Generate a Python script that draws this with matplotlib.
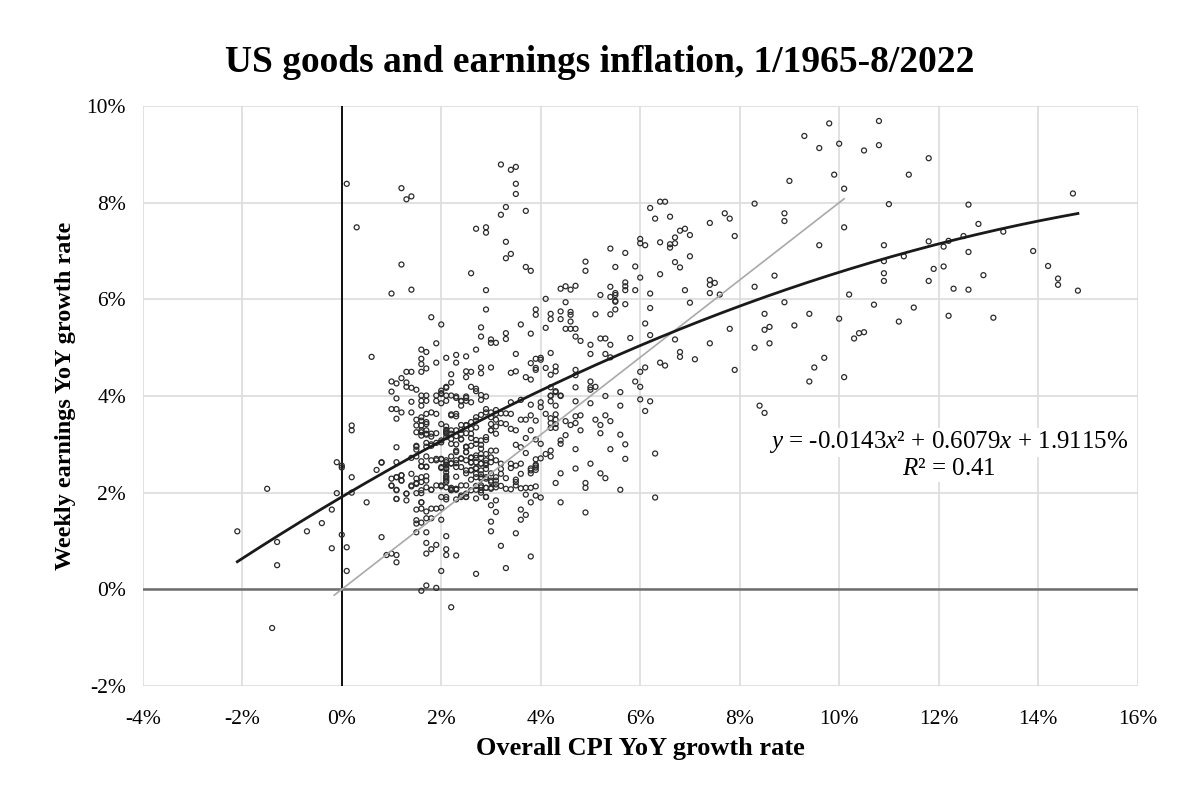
import numpy as np
import matplotlib.pyplot as plt

# ---------------------------
# Data (CPI YoY %, weekly earnings YoY %)
# ---------------------------
pts_low = [
    (-2.1, 1.20), (-1.5, 2.08), (-1.3, 0.98), (-1.3, 0.50), (-1.4, -0.80), (-0.7, 1.20),
    (-0.4, 1.37), (-0.2, 1.65), (-0.2, 0.85), (-0.1, 2.63), (-0.1, 1.99), (0.0, 2.56),
    (0.0, 2.52), (0.0, 1.13), (0.1, 0.87), (0.1, 0.38), (0.2, 2.32), (0.2, 2.00),
    (0.5, 1.80), (0.2, 3.39), (0.2, 3.29), (0.6, 4.81), (0.8, 2.63), (0.7, 2.47),
    (0.8, 1.08), (0.9, 0.71), (0.1, 8.39), (0.3, 7.49), (0.8, 2.62),
]

pts_core_a = [  # CPI 1-2.5%, upper part
    (1.2, 8.30), (1.3, 8.07), (1.4, 8.13), (1.2, 6.72), (1.0, 6.12), (1.4, 6.20),
    (1.8, 5.63), (2.0, 5.48), (1.9, 5.09), (1.6, 4.96), (1.7, 4.91), (1.6, 4.77),
    (1.6, 4.66), (1.7, 4.57), (1.6, 4.50), (1.9, 4.69), (2.1, 4.79), (2.3, 4.85),
    (2.3, 4.69), (2.5, 4.82), (1.3, 4.50), (1.4, 4.50), (2.2, 4.45), (2.2, 4.28),
    (2.5, 4.51), (2.5, 4.39), (1.0, 4.30), (1.1, 4.26), (1.2, 4.37), (1.3, 4.28),
    (1.3, 4.19), (1.4, 4.17), (1.5, 4.13), (1.0, 4.09), (1.1, 3.95), (1.4, 3.88),
    (1.6, 4.01), (1.7, 4.01), (1.6, 3.90), (1.7, 3.90), (1.6, 3.80), (1.9, 4.01),
    (2.0, 4.06), (2.1, 4.17), (2.1, 4.01), (2.2, 4.01), (2.3, 3.96), (2.4, 3.90),
    (2.5, 3.96), (1.9, 3.90), (2.0, 3.85), (2.1, 3.90), (2.4, 3.80), (2.5, 3.90),
    (1.0, 3.73), (1.1, 3.73), (1.2, 3.66), (1.1, 3.53), (1.4, 3.66), (1.5, 3.51),
    (1.6, 3.56), (1.7, 3.63), (1.8, 3.66), (1.9, 3.63), (1.7, 3.46), (1.6, 3.39),
    (1.5, 3.39), (1.5, 3.25), (1.6, 3.25), (1.7, 3.29), (1.6, 3.18), (1.7, 3.20),
    (1.8, 3.16), (1.9, 3.23), (2.0, 3.42), (2.1, 3.37), (2.2, 3.60), (2.3, 3.63),
    (2.2, 3.29), (2.3, 3.29), (2.4, 3.30), (2.5, 3.39), (2.1, 4.19), (2.0, 4.11),
    (2.0, 4.04),
]

pts_core_b = [  # CPI 1-2.5%, lower part
    (1.1, 2.94), (1.5, 2.95), (1.5, 2.89), (1.7, 2.95), (1.8, 3.00), (2.0, 3.04),
    (2.2, 3.11), (2.3, 3.00), (2.4, 3.11), (2.5, 2.95), (2.3, 2.84), (2.5, 2.84),
    (2.2, 2.75), (2.4, 2.70), (2.1, 2.67), (2.0, 2.70), (1.9, 2.67), (1.8, 2.67),
    (1.7, 2.75), (1.6, 2.65), (1.5, 2.75), (1.4, 2.72), (1.6, 2.54), (1.7, 2.54),
    (2.1, 2.51), (2.2, 2.61), (2.3, 2.61), (2.5, 2.67), (1.1, 2.63),
    (1.5, 1.43), (1.5, 1.36), (1.6, 1.38), (1.7, 1.47), (1.8, 1.47), (2.0, 1.44),
    (1.7, 1.61), (1.6, 1.67), (1.5, 1.65), (1.8, 1.67), (1.9, 1.67), (2.0, 1.69),
    (1.6, 1.80), (1.1, 1.87), (1.1, 2.05), (1.0, 2.14), (1.1, 2.32), (1.2, 2.36),
    (1.2, 2.25), (1.4, 2.13), (1.5, 2.20), (1.6, 2.22), (1.7, 2.25), (1.5, 1.99),
    (1.6, 1.99), (1.3, 1.98), (1.8, 2.06), (1.9, 2.15), (2.0, 2.13), (2.1, 2.11),
    (2.2, 2.06), (2.3, 2.08), (2.5, 2.15), (2.4, 1.94), (2.5, 1.98), (2.1, 1.91),
    (1.7, 1.18), (1.7, 0.96), (1.7, 0.74), (1.8, 0.83), (1.9, 0.92), (2.1, 1.10),
    (2.1, 0.83), (2.1, 0.71), (2.3, 0.70), (2.0, 0.38), (2.2, -0.37), (1.6, -0.03),
    (1.7, 0.08), (1.9, 0.03), (1.0, 0.74), (1.1, 0.71), (1.1, 0.56), (1.5, 1.18),
    (2.1, 1.86), (2.0, 2.69), (2.0, 2.51), (2.1, 2.58), (2.1, 2.42), (2.1, 2.32),
    (2.1, 2.25), (2.2, 2.60), (2.3, 2.33), (2.4, 2.71), (2.5, 2.40),
]

pts_core_c = [  # CPI 1.5-3.1%, dense band
    (1.6, 3.49), (1.7, 3.42), (1.6, 3.29), (1.7, 3.22), (1.8, 3.22), (2.1, 3.27),
    (2.1, 3.22), (2.2, 3.22), (2.3, 3.17), (2.4, 3.22), (2.5, 3.23), (2.6, 3.32),
    (2.6, 3.22), (2.7, 3.35), (2.7, 3.56), (2.8, 3.61), (2.9, 3.73), (2.9, 3.66),
    (3.0, 3.56), (3.1, 3.63), (3.0, 3.42), (3.1, 3.37), (3.0, 3.29), (3.1, 3.22),
    (2.9, 3.15), (2.8, 3.08), (2.7, 3.01), (2.6, 2.97), (2.5, 2.94), (2.4, 3.10),
    (2.3, 2.87), (2.2, 3.01), (2.1, 3.15), (2.0, 3.08), (1.9, 3.03), (1.8, 2.97),
    (1.7, 3.03), (1.5, 2.97), (1.9, 2.70), (2.1, 2.63), (2.3, 2.67), (2.6, 2.73),
    (2.7, 2.77), (2.8, 2.72), (2.9, 2.80), (3.0, 2.87), (3.1, 2.87), (3.0, 2.73),
    (2.6, 2.63), (2.7, 2.63), (2.8, 2.60), (2.9, 2.67), (2.9, 2.57), (2.8, 2.46),
    (2.7, 2.50), (2.6, 2.46), (2.5, 2.46), (2.4, 2.53), (2.3, 2.53), (2.1, 2.56),
    (2.1, 2.49), (2.1, 2.35), (2.1, 2.29), (2.1, 2.22), (2.0, 2.53), (1.7, 2.53),
    (1.6, 2.55), (1.4, 2.39), (1.5, 2.29), (1.6, 2.32), (1.7, 2.34), (1.2, 2.36),
    (1.1, 2.32), (1.0, 2.29), (1.2, 2.25), (1.0, 2.15), (1.1, 2.06), (1.3, 1.98),
    (1.4, 2.15), (1.5, 2.18), (1.6, 2.05), (1.7, 2.11), (1.8, 2.06), (2.0, 2.15),
    (2.2, 2.10), (2.2, 2.05), (2.3, 2.06), (2.4, 2.15), (2.6, 2.27), (2.7, 2.32),
    (2.8, 2.32), (2.8, 2.15), (2.9, 2.29), (3.0, 2.22), (2.6, 2.05), (2.7, 2.06),
    (2.8, 2.05), (2.9, 2.10), (3.0, 2.10), (3.1, 2.11), (1.1, 1.87), (1.3, 1.84),
    (1.6, 1.80), (2.0, 1.91), (2.3, 1.86), (2.4, 1.91), (2.5, 1.91), (2.7, 1.88),
    (2.9, 1.91), (3.1, 1.84),
]

pts_mid = [  # CPI 2.5-4%
    (2.9, 5.79), (2.8, 5.42), (2.8, 5.23), (3.0, 5.17), (3.0, 5.10), (3.1, 5.10),
    (2.7, 4.96), (2.8, 4.59), (3.0, 4.59), (2.8, 4.47), (2.6, 4.50), (2.6, 4.19),
    (2.7, 4.15), (2.7, 4.10), (2.8, 4.02), (2.9, 3.99), (3.2, 8.79), (3.4, 8.68),
    (3.5, 8.74), (3.5, 8.39), (3.5, 8.18), (3.3, 7.91), (3.2, 7.75), (3.7, 7.83),
    (2.7, 7.46), (2.9, 7.49), (2.9, 7.38), (3.3, 7.19), (3.3, 6.85), (3.4, 6.94),
    (3.7, 6.67), (3.8, 6.59), (2.6, 6.54), (2.9, 6.19), (3.6, 5.48), (3.8, 5.29),
    (3.3, 5.30), (3.3, 5.18), (3.5, 4.87), (3.9, 5.79), (3.9, 5.68), (3.9, 4.77),
    (3.8, 4.68), (3.9, 4.58), (3.9, 4.54), (3.4, 4.48), (3.5, 4.51), (3.7, 4.39),
    (3.8, 4.34), (2.3, 3.99), (2.4, 3.89), (2.5, 3.99), (2.6, 3.87), (2.8, 3.92),
    (3.0, 3.66), (3.1, 3.71), (3.2, 3.64), (3.3, 3.64), (3.4, 3.63), (3.4, 3.87),
    (3.6, 3.92), (2.1, 3.30), (2.1, 3.24), (2.2, 3.62), (2.3, 3.58), (2.4, 3.40),
    (2.5, 3.40), (2.6, 3.46), (2.7, 3.49), (2.5, 2.95), (2.5, 2.84), (2.6, 3.13),
    (2.7, 3.09), (2.8, 2.99), (2.8, 2.91), (2.9, 3.09), (3.0, 3.29), (3.1, 3.51),
    (3.2, 3.44), (3.3, 3.42), (3.4, 3.32), (3.5, 3.29), (3.6, 3.51), (3.7, 3.51),
    (3.5, 2.99), (3.6, 2.94), (3.7, 3.13), (2.6, 2.47), (2.6, 2.62), (2.6, 2.72),
    (2.7, 2.72), (2.7, 2.51), (2.7, 2.39), (2.8, 2.38), (2.8, 2.29), (2.8, 2.60),
    (2.8, 2.80), (2.9, 2.61), (2.9, 2.49), (2.9, 2.32), (3.0, 2.63), (3.0, 2.40),
    (3.0, 2.25), (3.1, 2.67), (3.1, 2.32), (3.1, 2.25), (3.2, 2.49), (3.2, 2.39),
    (3.2, 2.60), (3.3, 2.30), (3.4, 2.51), (3.4, 2.60), (3.5, 2.56), (3.5, 2.22),
    (3.6, 2.60), (3.6, 2.39), (3.7, 2.82), (3.8, 2.46), (3.9, 2.56), (3.9, 2.47),
    (2.5, 1.91), (2.3, 2.07), (2.2, 2.07), (2.7, 2.14), (2.8, 2.11), (2.8, 2.00),
    (2.9, 2.10), (2.9, 1.91), (3.0, 2.08), (3.1, 2.17), (3.2, 2.14), (3.3, 2.08),
    (3.4, 2.07), (3.5, 2.27), (3.5, 2.15), (3.6, 2.09), (3.7, 2.10), (3.7, 1.96),
    (3.8, 2.10), (3.8, 1.80), (3.7, 1.54), (3.6, 1.65), (3.6, 1.44), (3.5, 1.16),
    (3.8, 0.68), (3.3, 0.44), (3.2, 0.90), (3.0, 1.20), (3.0, 1.40), (3.1, 1.60),
    (3.0, 1.74), (2.7, 0.32), (3.9, 1.94), (3.9, 2.13), (3.8, 2.50), (3.8, 2.40),
    (3.9, 2.69), (3.9, 2.58), (3.9, 2.52), (3.9, 3.10), (3.8, 3.29), (3.9, 3.49),
    (3.8, 3.60), (3.8, 3.82),
]

pts_upper = [  # CPI 4-7%
    (4.1, 6.01), (4.5, 5.94), (5.2, 6.09), (5.4, 6.05), (5.5, 6.09), (5.5, 5.97),
    (4.2, 5.70), (4.2, 5.59), (4.4, 5.75), (4.4, 5.59), (4.6, 5.74), (4.6, 5.68),
    (4.6, 5.54), (5.1, 5.69), (5.4, 5.69), (5.5, 5.79), (4.1, 5.41), (4.5, 5.39),
    (4.6, 5.39), (4.7, 5.39), (4.7, 5.23), (4.8, 5.14), (5.0, 5.06), (5.2, 5.19),
    (5.3, 5.19), (5.4, 5.06), (4.2, 4.89), (5.0, 4.87), (5.3, 4.87), (4.0, 4.79),
    (4.0, 4.75), (4.1, 4.58), (4.3, 4.61), (4.3, 4.51), (4.2, 4.44), (4.7, 4.54),
    (4.7, 4.43), (4.7, 4.18), (5.0, 4.30), (5.0, 4.18), (5.0, 4.13), (5.1, 4.19),
    (4.2, 4.18), (4.3, 4.10), (4.2, 4.00), (4.4, 4.00), (5.3, 4.00), (4.7, 6.28),
    (4.6, 6.20), (4.5, 6.27), (4.4, 6.22), (4.9, 6.78), (4.9, 6.59), (5.4, 7.05),
    (5.7, 6.96), (5.5, 6.67), (5.9, 6.68), (6.0, 6.45), (5.4, 6.26), (5.5, 6.13),
    (5.7, 6.35), (5.7, 6.27), (5.7, 6.19), (5.9, 6.19), (5.5, 5.95), (5.7, 5.90),
    (6.0, 7.25), (6.0, 7.16), (6.1, 7.12), (6.2, 7.89), (6.3, 7.67), (6.4, 8.02),
    (6.5, 8.02), (6.6, 7.71), (6.4, 7.18), (6.6, 7.14), (6.6, 7.07), (6.7, 7.28),
    (6.7, 7.16), (6.8, 7.42), (6.9, 7.46), (7.0, 7.33), (6.7, 6.77), (6.8, 6.66),
    (7.0, 6.89), (6.4, 6.52), (6.9, 6.19), (7.0, 5.93), (6.2, 6.12), (6.2, 5.82),
    (6.1, 5.50), (6.2, 5.26), (6.7, 5.17), (6.8, 4.91), (6.8, 4.81), (7.1, 4.76),
    (6.4, 4.69), (6.5, 4.63), (6.0, 4.50), (6.1, 4.59), (5.9, 4.30), (6.0, 4.19),
    (5.6, 4.08), (6.0, 3.93), (5.8, 5.20), (5.4, 4.80),
    (6.3, 2.81), (6.3, 1.90), (6.1, 3.69), (6.2, 3.89), (5.6, 3.80), (5.6, 3.20),
    (5.7, 3.00), (5.7, 2.70), (5.4, 2.90), (5.6, 2.06), (5.3, 3.60), (5.4, 3.48),
    (5.2, 3.40), (5.2, 3.23), (5.1, 3.51), (5.0, 3.85), (4.8, 3.60), (4.7, 3.58),
    (4.7, 3.44), (4.8, 3.29), (4.6, 3.40), (4.5, 3.48), (4.7, 3.89), (5.0, 2.60),
    (5.2, 2.40), (5.3, 2.30), (4.9, 2.20), (4.9, 2.10), (4.9, 1.59), (4.7, 2.90),
    (4.7, 2.50), (4.4, 2.40), (4.4, 1.80), (4.3, 2.20), (4.4, 3.08), (4.4, 3.01),
    (4.5, 3.19), (4.3, 3.34), (4.3, 3.42), (4.3, 3.51), (4.3, 3.62), (4.2, 3.54),
    (4.2, 3.44), (4.2, 3.34), (4.2, 3.89), (4.2, 4.01), (4.3, 4.08), (4.3, 3.80),
    (4.4, 4.01), (4.2, 2.87), (4.2, 2.75), (4.1, 2.80), (4.0, 2.71), (4.0, 3.01),
    (4.0, 3.87), (4.0, 3.77), (4.1, 3.63), (4.0, 1.90),
]

pts_high = [  # CPI above 7%
    (7.4, 7.58), (7.7, 7.78), (7.8, 7.67), (7.9, 7.31), (8.3, 7.98), (7.4, 6.40),
    (7.4, 6.30), (7.5, 6.34), (7.4, 6.13), (7.6, 6.10), (8.3, 6.26), (8.5, 5.70),
    (8.5, 5.37), (8.6, 5.43), (7.8, 5.39), (7.4, 5.09), (8.3, 5.00), (7.9, 4.54),
    (9.8, 9.64), (10.8, 9.69), (9.3, 9.38), (9.6, 9.13), (10.0, 9.22), (10.5, 9.08),
    (10.8, 9.19), (11.8, 8.92), (9.9, 8.58), (10.1, 8.29), (11.4, 8.58), (9.0, 8.45),
    (8.9, 7.78), (8.9, 7.62), (10.1, 7.49), (11.0, 7.97), (12.6, 7.96), (14.7, 8.19),
    (12.8, 7.56), (13.3, 7.40), (9.6, 7.12), (10.9, 7.12), (11.8, 7.20), (12.1, 7.09),
    (12.2, 7.21), (12.5, 7.31), (12.6, 6.98), (13.9, 7.00), (10.9, 6.79), (11.3, 6.89),
    (8.7, 6.49), (10.9, 6.54), (10.9, 6.38), (11.8, 6.38), (11.9, 6.63), (12.1, 6.68),
    (12.9, 6.50), (12.3, 6.22), (12.6, 6.20), (14.2, 6.69), (14.4, 6.43), (14.4, 6.30),
    (14.8, 6.18), (8.9, 5.94), (10.2, 6.10), (9.4, 5.70), (10.7, 5.89), (11.5, 5.83),
    (9.1, 5.46), (10.0, 5.60), (10.3, 5.19), (10.4, 5.30), (10.5, 5.32), (11.2, 5.54),
    (12.2, 5.66), (13.1, 5.62), (8.6, 5.09), (9.7, 4.79), (9.5, 4.59), (9.4, 4.30),
    (10.1, 4.39), (8.4, 3.80), (8.5, 3.65),
]

# fitted curves shown on the chart
poly_coef = [-0.0143, 0.6079, 1.9115]
poly_xrange = [-2.1, 14.8]
gray_slope = 0.8
gray_xrange = [-0.15, 10.1]

# ---------------------------
# Plot
# ---------------------------
plt.rcParams['font.family'] = ['Liberation Serif', 'DejaVu Serif']
plt.rcParams['mathtext.fontset'] = 'custom'
plt.rcParams['mathtext.rm'] = 'Liberation Serif'
plt.rcParams['mathtext.it'] = 'Liberation Serif:italic'

pts = np.array(pts_low + pts_core_a + pts_core_b + pts_core_c + pts_mid + pts_upper + pts_high)

fig = plt.figure(figsize=(12, 8), dpi=100)
ax = fig.add_axes([0.119, 0.1425, 0.829, 0.725])

ax.set_xlim(-4, 16)
ax.set_ylim(-2, 10)
ax.set_xticks(np.arange(-4, 17, 2))
ax.set_yticks(np.arange(-2, 11, 2))
ax.set_xticklabels([f"{v}%" for v in range(-4, 17, 2)])
ax.set_yticklabels([f"{v}%" for v in range(-2, 11, 2)])
ax.tick_params(length=0, labelsize=15.5, pad=12)
ax.tick_params(axis='x', pad=17)
for s in ax.spines.values():
    s.set_visible(False)
ax.grid(True, color='#dcdcdc', linewidth=1.2, zorder=0)
ax.set_axisbelow(True)

ax.axvline(0, color='black', linewidth=1.3, zorder=1)
ax.axhline(0, color='#6e6e6e', linewidth=1.8, zorder=1)

ax.scatter(pts[:, 0], pts[:, 1], s=13, facecolors='none', edgecolors='#2b2b2b',
           linewidths=0.9, zorder=3)

xg = np.linspace(gray_xrange[0], gray_xrange[1], 50)
ax.plot(xg, gray_slope * xg, color='#a9a9a9', linewidth=1.2, zorder=4)

xp = np.linspace(poly_xrange[0], poly_xrange[1], 200)
ax.plot(xp, np.polyval(poly_coef, xp), color='#1a1a1a', linewidth=2.0, zorder=5)

box = dict(facecolor='white', edgecolor='none', pad=1)
ax.text(12.2, 3.04, "$y$ = -0.0143$x$\u00b2 + 0.6079$x$ + 1.9115%",
        ha='center', va='center', fontsize=18, zorder=6, bbox=box)
ax.text(12.2, 2.48, "$R$\u00b2 = 0.41",
        ha='center', va='center', fontsize=18, zorder=6, bbox=box)

ax.set_xlabel("Overall CPI YoY growth rate", fontsize=19, fontweight='bold', labelpad=6)
ax.set_ylabel("Weekly earnings YoY growth rate", fontsize=17.5, fontweight='bold', labelpad=8)

fig.suptitle("US goods and earnings inflation, 1/1965-8/2022", fontsize=27,
             fontweight='bold', y=0.9225, va='center')

fig.savefig("out.png", dpi=100)
